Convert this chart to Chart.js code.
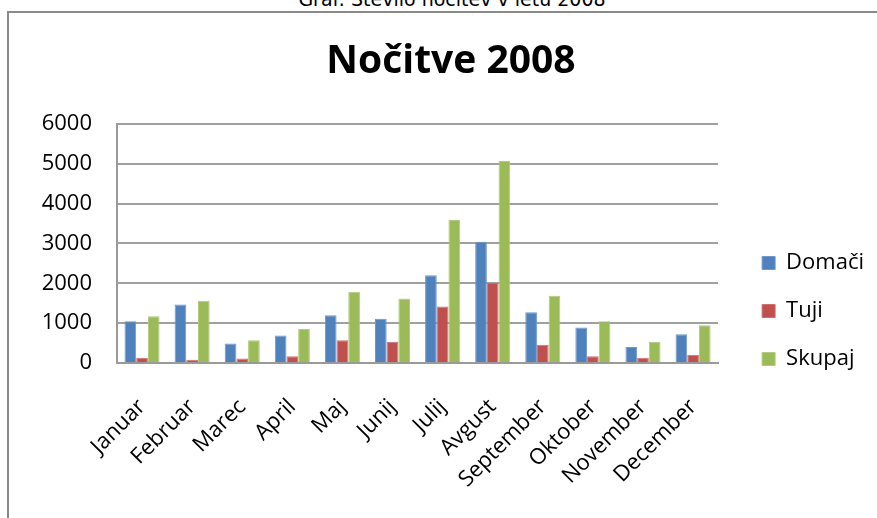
<!DOCTYPE html>
<html>
<head>
<meta charset="utf-8">
<script src="https://cdn.jsdelivr.net/npm/chart.js@4/dist/chart.umd.min.js"></script>
<style>
  html, body { margin: 0; padding: 0; background: #fff; width: 877px; height: 518px; overflow: hidden; }
  #caption { position: absolute; left: 452px; top: -10px; transform: translateX(-50%); font-family: "DejaVu Sans", sans-serif; font-size: 19px; line-height: 19px; white-space: nowrap; color: #000; }
  #frame { position: absolute; left: 7px; top: 11px; width: 900px; height: 620px; border: 2px solid #8a8a8a; box-sizing: border-box; pointer-events: none; }
  #c { position: absolute; left: 0; top: 0; }
</style>
</head>
<body>
<div id="caption">Graf: Število nočitev v letu 2008</div>
<canvas id="c" width="877" height="622"></canvas>
<div id="frame"></div>
<script>
const chartTitle = 'Nočitve 2008';
const months = ['Januar','Februar','Marec','April','Maj','Junij','Julij','Avgust','September','Oktober','November','December'];
const seriesNames = ['Domači','Tuji','Skupaj'];
const domaci = [1050, 1470, 490, 690, 1200, 1110, 2200, 3040, 1270, 890, 400, 720];
const tuji   = [130, 80, 110, 170, 570, 530, 1420, 2010, 460, 170, 130, 210];
const skupaj = [1170, 1560, 570, 850, 1790, 1620, 3590, 5070, 1690, 1050, 530, 950];
const yMin = 0, yMax = 6000, yStep = 1000;

const fills   = ['#4F81BD', '#C0504D', '#9BBB59'];
const edges   = ['#6F97CA', '#CD716F', '#B0CB7C'];
const tickFont = { family: '"Open Sans", sans-serif', size: 22 };

new Chart(document.getElementById('c'), {
  type: 'bar',
  data: {
    labels: months,
    datasets: [domaci, tuji, skupaj].map((d, i) => ({
      label: seriesNames[i],
      data: d,
      yAxisID: 'y',
      backgroundColor: fills[i],
      borderColor: edges[i],
      borderWidth: 1,
      categoryPercentage: 0.7,
      barPercentage: 1.0
    }))
  },
  options: {
    responsive: false,
    animation: false,
    devicePixelRatio: 1,
    layout: { padding: { left: 28, right: 3, top: 0, bottom: 0 } },
    plugins: {
      tooltip: { enabled: false },
      title: {
        display: true,
        text: chartTitle,
        color: '#000',
        font: { family: '"Open Sans", sans-serif', size: 39, weight: 'bold' },
        padding: { top: 38, bottom: 39 }
      },
      legend: {
        display: true,
        position: 'right',
        labels: {
          color: '#000',
          font: tickFont,
          boxWidth: 13,
          boxHeight: 13,
          padding: 26
        }
      }
    },
    scales: {
      x: {
        grid: { display: false, drawTicks: false },
        border: { display: true, color: '#9a9a9a', width: 2 },
        ticks: { color: '#000', font: tickFont, minRotation: 45, maxRotation: 45, autoSkip: false, padding: 31, labelOffset: 0 },
        afterFit: s => { s.height = 259; }
      },
      y: {
        min: yMin, max: yMax,
        grid: { color: '#a0a0a0', lineWidth: 2, drawTicks: false },
        border: { display: true, color: '#9a9a9a', width: 2 },
        ticks: { color: '#000', font: tickFont, stepSize: yStep, padding: 25, callback: v => String(v) },
        afterFit: s => { s.width = 89; }
      },
      gap: {
        type: 'linear', axis: 'y', position: 'right', display: true,
        grid: { display: false, drawTicks: false },
        border: { display: false },
        ticks: { display: false },
        afterFit: s => { s.width = 18; }
      }
    }
  }
});
</script>
</body>
</html>
